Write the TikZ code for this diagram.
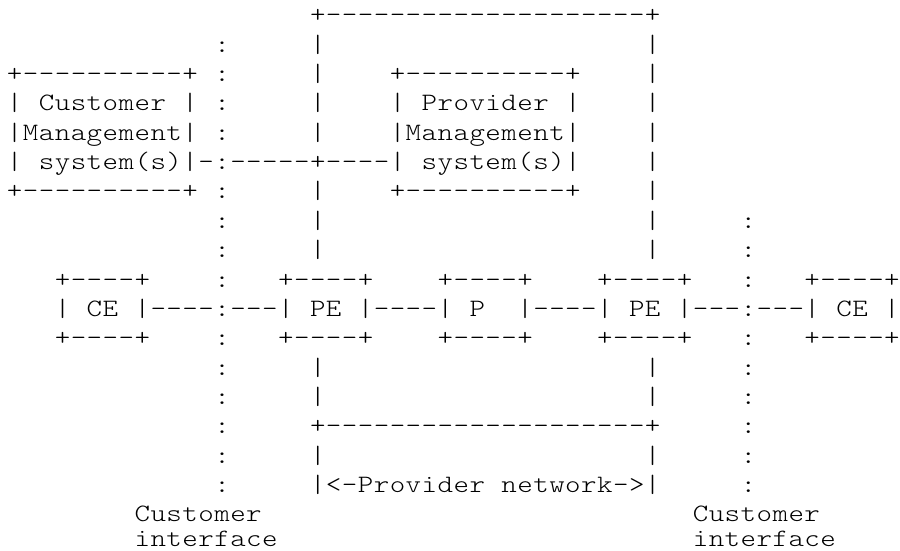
\documentclass[tikz,border=0pt]{standalone}
\usepackage{graphicx}
\usepackage{fontspec}
\newfontfamily\asciifont{lmmonolt10-regular.otf}
\newlength\cellw
\setlength\cellw{15.95pt}
\ExplSyntaxOn
\NewDocumentCommand\asciicells{m}{\tl_map_inline:nn {#1}{\makebox[\cellw][c]{\scalebox{1.18}[1]{##1}}}}
\ExplSyntaxOff
\tikzset{ascii/.style={inner sep=0pt, outer sep=0pt, anchor=base west, text=black,
  font=\asciifont\fontsize{25}{30}\selectfont}}
\newcommand\tk[3]{\node[ascii] (t-#1-#2) at ({14.7+15.95*#2-7.975},{550-min(22.8+29.36*#1,546)}) {\asciicells{#3}};}
\begin{document}
\begin{tikzpicture}[x=1pt,y=1pt]
\fill[white] (0,0) rectangle (900,550);
\useasboundingbox (0,0) rectangle (900,550);
% row 0
\tk{0}{19}{+--------------------+}
% row 1
\tk{1}{13}{:}\tk{1}{19}{|}\tk{1}{40}{|}
% row 2
\tk{2}{0}{+----------+}\tk{2}{13}{:}\tk{2}{19}{|}\tk{2}{24}{+----------+}\tk{2}{40}{|}
% row 3
\tk{3}{0}{|}\tk{3}{2}{Customer}\tk{3}{11}{|}\tk{3}{13}{:}\tk{3}{19}{|}
\tk{3}{24}{|}\tk{3}{26}{Provider}\tk{3}{35}{|}\tk{3}{40}{|}
% row 4
\tk{4}{0}{|}\tk{4}{1}{Management}\tk{4}{11}{|}\tk{4}{13}{:}\tk{4}{19}{|}
\tk{4}{24}{|}\tk{4}{25}{Management}\tk{4}{35}{|}\tk{4}{40}{|}
% row 5
\tk{5}{0}{|}\tk{5}{2}{system(s)}\tk{5}{11}{|-:-----+----|}\tk{5}{26}{system(s)}\tk{5}{35}{|}\tk{5}{40}{|}
% row 6
\tk{6}{0}{+----------+}\tk{6}{13}{:}\tk{6}{19}{|}\tk{6}{24}{+----------+}\tk{6}{40}{|}
% rows 7-8
\tk{7}{13}{:}\tk{7}{19}{|}\tk{7}{40}{|}\tk{7}{46}{:}
\tk{8}{13}{:}\tk{8}{19}{|}\tk{8}{40}{|}\tk{8}{46}{:}
% row 9
\tk{9}{3}{+----+}\tk{9}{13}{:}\tk{9}{17}{+----+}\tk{9}{27}{+----+}\tk{9}{37}{+----+}\tk{9}{46}{:}\tk{9}{50}{+----+}
% row 10
\tk{10}{3}{|}\tk{10}{5}{CE}\tk{10}{8}{|----:---|}\tk{10}{19}{PE}\tk{10}{22}{|----|}\tk{10}{29}{P}
\tk{10}{32}{|----|}\tk{10}{39}{PE}\tk{10}{42}{|---:---|}\tk{10}{52}{CE}\tk{10}{55}{|}
% row 11
\tk{11}{3}{+----+}\tk{11}{13}{:}\tk{11}{17}{+----+}\tk{11}{27}{+----+}\tk{11}{37}{+----+}\tk{11}{46}{:}\tk{11}{50}{+----+}
% rows 12-13
\tk{12}{13}{:}\tk{12}{19}{|}\tk{12}{40}{|}\tk{12}{46}{:}
\tk{13}{13}{:}\tk{13}{19}{|}\tk{13}{40}{|}\tk{13}{46}{:}
% row 14
\tk{14}{13}{:}\tk{14}{19}{+--------------------+}\tk{14}{46}{:}
% row 15
\tk{15}{13}{:}\tk{15}{19}{|}\tk{15}{40}{|}\tk{15}{46}{:}
% row 16
\tk{16}{13}{:}\tk{16}{19}{|<-Provider}\tk{16}{31}{network->|}\tk{16}{46}{:}
% rows 17-18
\tk{17}{8}{Customer}\tk{17}{43}{Customer}
\tk{18}{8}{interface}\tk{18}{43}{interface}
\end{tikzpicture}
\end{document}
